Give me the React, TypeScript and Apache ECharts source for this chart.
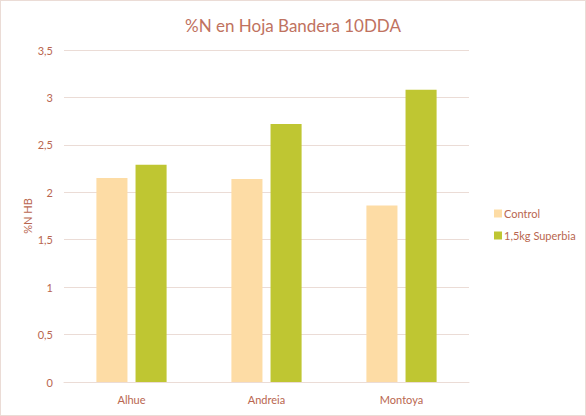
import React, { useEffect, useRef } from "react";
import * as echarts from "echarts";

const categories = ["Alhue", "Andreia", "Montoya"];
const controlValues = [2.15, 2.14, 1.86];
const superbiaValues = [2.29, 2.72, 3.08];
const seriesNames = ["Control", "1,5kg Superbia"];
const titleText = "%N en Hoja Bandera 10DDA";
const yAxisName = "%N HB";

const textColor = "#B9664F";
const gridColor = "#EBDCD6";
const font = "Lato, 'Open Sans', sans-serif";

export default function App() {
  const ref = useRef<HTMLDivElement>(null);
  useEffect(() => {
    const chart = echarts.init(ref.current!, null, { renderer: "svg" });
    chart.setOption({
      animation: false,
      backgroundColor: "#ffffff",
      title: {
        text: titleText,
        left: "center",
        top: 11,
        textStyle: { color: "#C07260", fontSize: 17, fontWeight: "normal", fontFamily: font },
      },
      legend: {
        orient: "vertical",
        left: 488,
        top: 202,
        itemWidth: 8,
        itemHeight: 8,
        itemGap: 11,
        icon: "rect",
        textStyle: { color: textColor, fontSize: 11, fontFamily: font, padding: [0, 0, 0, -3] },
        data: seriesNames,
      },
      grid: { left: 63, right: 116, top: 49, bottom: 33 },
      xAxis: {
        type: "category",
        data: categories,
        axisLine: { lineStyle: { color: gridColor, width: 1 } },
        axisTick: { show: false },
        axisLabel: { color: textColor, fontSize: 11, fontFamily: font, margin: 12 },
      },
      yAxis: {
        type: "value",
        min: 0,
        max: 3.5,
        interval: 0.5,
        name: yAxisName,
        nameLocation: "middle",
        nameGap: 31,
        nameMoveOverlap: false,
        nameRotate: 90,
        nameTextStyle: { color: textColor, fontSize: 11, fontFamily: font },
        axisLine: { show: false },
        axisTick: { show: false },
        splitLine: { lineStyle: { color: gridColor, width: 1 } },
        axisLabel: {
          color: textColor,
          fontSize: 11,
          fontFamily: font,
          margin: 11,
          formatter: (v: number) => String(v).replace(".", ","),
        },
      },
      series: [
        {
          name: seriesNames[0],
          type: "bar",
          data: controlValues,
          itemStyle: { color: "#FDDCA5" },
          barGap: "26%",
          barCategoryGap: "48%",
        },
        {
          name: seriesNames[1],
          type: "bar",
          data: superbiaValues,
          itemStyle: { color: "#BFC632" },
          barGap: "26%",
          barCategoryGap: "48%",
        },
      ],
    });
    return () => chart.dispose();
  }, []);
  return (
    <div
      style={{
        position: "absolute",
        left: 0,
        top: 0,
        width: 586,
        height: 416,
        boxSizing: "border-box",
        border: "1px solid #EBDCD6",
        background: "#fff",
      }}
    >
      <div ref={ref} style={{ width: 584, height: 414 }} />
    </div>
  );
}
